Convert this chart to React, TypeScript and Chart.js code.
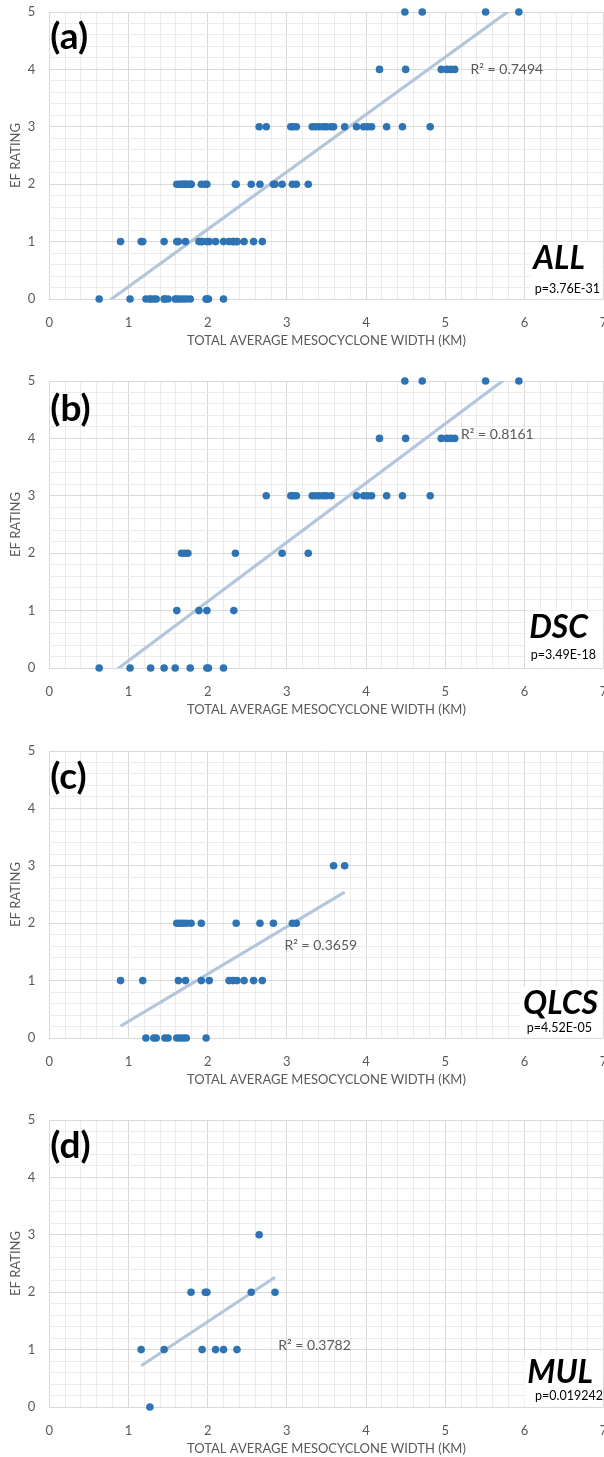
import React, { useEffect, useRef } from "react";
import { Chart, registerables } from "chart.js";

Chart.register(...registerables);

// Mesocyclone width (km) of each tornado, grouped by EF rating.
// ALL storms
const allEF0 = [0.63, 1.02, 1.22, 1.27, 1.28, 1.32, 1.35, 1.45, 1.46, 1.5, 1.59, 1.61, 1.65, 1.69, 1.73, 1.78, 1.98, 1.99, 2.01, 2.2];
const allEF1 = [0.9, 1.16, 1.18, 1.45, 1.61, 1.63, 1.72, 1.89, 1.92, 1.93, 1.99, 2.02, 2.1, 2.2, 2.27, 2.32, 2.33, 2.37, 2.37, 2.46, 2.58, 2.69];
const allEF2 = [1.61, 1.65, 1.67, 1.69, 1.71, 1.73, 1.75, 1.79, 1.79, 1.92, 1.97, 1.99, 2.35, 2.36, 2.55, 2.66, 2.83, 2.85, 2.94, 3.07, 3.12, 3.27];
const allEF3 = [2.65, 2.74, 3.05, 3.08, 3.12, 3.32, 3.36, 3.41, 3.46, 3.5, 3.56, 3.59, 3.73, 3.88, 3.97, 4.02, 4.07, 4.26, 4.46, 4.81];
const allEF4 = [4.17, 4.5, 4.95, 5.02, 5.07, 5.12];
const allEF5 = [4.49, 4.71, 5.51, 5.93];

// Discrete supercells
const dscEF0 = [0.63, 1.02, 1.28, 1.45, 1.59, 1.78, 1.99, 2.01, 2.2];
const dscEF1 = [1.61, 1.89, 1.99, 2.33];
const dscEF2 = [1.67, 1.71, 1.75, 2.35, 2.94, 3.27];
const dscEF3 = [2.74, 3.05, 3.08, 3.12, 3.32, 3.36, 3.41, 3.46, 3.5, 3.56, 3.88, 3.97, 4.02, 4.07, 4.26, 4.46, 4.81];
const dscEF4 = [4.17, 4.5, 4.95, 5.02, 5.07, 5.12];
const dscEF5 = [4.49, 4.71, 5.51, 5.93];

// Quasi-linear convective systems
const qlcsEF0 = [1.22, 1.32, 1.35, 1.46, 1.5, 1.61, 1.65, 1.69, 1.73, 1.98];
const qlcsEF1 = [0.9, 1.18, 1.63, 1.72, 1.92, 2.02, 2.27, 2.32, 2.37, 2.46, 2.58, 2.69];
const qlcsEF2 = [1.61, 1.65, 1.69, 1.73, 1.79, 1.92, 2.36, 2.66, 2.83, 3.07, 3.12];
const qlcsEF3 = [3.59, 3.73];

// Multicell / mixed mode
const mulEF0 = [1.27];
const mulEF1 = [1.16, 1.45, 1.93, 2.1, 2.2, 2.37];
const mulEF2 = [1.79, 1.97, 1.99, 2.55, 2.85];
const mulEF3 = [2.65];

// Linear trendlines (slope, intercept) and their R² / p values
const trendSlopes = [1.0, 1.032, 0.826, 0.913];
const trendIntercepts = [-0.786, -0.906, -0.538, -0.341];
const rSquared = ["0.7494", "0.8161", "0.3659", "0.3782"];
const pValues = ["3.76E-31", "3.49E-18", "4.52E-05", "0.019242"];
const panelTags = ["(a)", "(b)", "(c)", "(d)"];
const groupNames = ["ALL", "DSC", "QLCS", "MUL"];

const FONT = "Lato, 'Open Sans', sans-serif";
const TEXT_GREY = "#595959";
const GRID_MAJOR = "#d9d9d9";
const GRID_MINOR = "#ebebeb";
const MARKER = "#2e74b5";
const TREND = "#b4c6dc";

const CANVAS_W = 640;
const CANVAS_H = 369;
const PLOT_RIGHT = 603.6;

type Pt = { x: number; y: number };

function toPoints(byRating: number[][]): Pt[] {
  const pts: Pt[] = [];
  byRating.forEach((widths, ef) => widths.forEach((w) => pts.push({ x: w, y: ef })));
  return pts;
}

const panelData: number[][][] = [
  [allEF0, allEF1, allEF2, allEF3, allEF4, allEF5],
  [dscEF0, dscEF1, dscEF2, dscEF3, dscEF4, dscEF5],
  [qlcsEF0, qlcsEF1, qlcsEF2, qlcsEF3],
  [mulEF0, mulEF1, mulEF2, mulEF3],
];

// Placement of the in-plot labels (pixels from the plot area's top, value coords for R²)
const labelLayout = [
  { tagDy: 25.5, groupRight: 585, groupDy: 247, pRight: 600, pDy: 277, r2X: 5.32, r2Y: 4.0 },
  { tagDy: 28, groupRight: 588, groupDy: 246.5, pRight: 596, pDy: 274, r2X: 5.2, r2Y: 4.07 },
  { tagDy: 26.5, groupRight: 598, groupDy: 253, pRight: 592, pDy: 277, r2X: 2.97, r2Y: 1.61 },
  { tagDy: 26.5, groupRight: 593, groupDy: 252.5, pRight: 603, pDy: 275.7, r2X: 2.89, r2Y: 1.08 },
];

const isInt = (v: number) => Math.abs(v - Math.round(v)) < 1e-6;

const annotatePlugin = {
  id: "annotate",
  afterDatasetsDraw(chart: any, _args: any, opts: any) {
    const i: number = opts.index;
    const lay = labelLayout[i];
    const { ctx, chartArea, scales } = chart;
    ctx.save();
    ctx.textBaseline = "middle";

    // white box behind the group name and p-value
    ctx.font = `italic bold 32px ${FONT}`;
    const gW = ctx.measureText(groupNames[i]).width;
    ctx.font = `12.5px ${FONT}`;
    const pW = ctx.measureText("p=" + pValues[i]).width;
    const boxLeft = Math.min(lay.groupRight - gW, lay.pRight - pW) - 3;
    const boxTop = chartArea.top + lay.groupDy - 17;
    ctx.fillStyle = "#ffffff";
    ctx.fillRect(boxLeft, boxTop, chartArea.right - 1 - boxLeft, chartArea.bottom - 1 - boxTop);

    ctx.fillStyle = "#000000";
    ctx.textAlign = "left";
    ctx.font = `bold 37px ${FONT}`;
    ctx.fillText(panelTags[i], chartArea.left + 1, chartArea.top + lay.tagDy);

    ctx.textAlign = "right";
    ctx.font = `italic bold 32px ${FONT}`;
    ctx.fillText(groupNames[i], lay.groupRight, chartArea.top + lay.groupDy);
    ctx.font = `12.5px ${FONT}`;
    ctx.fillText("p=" + pValues[i], lay.pRight, chartArea.top + lay.pDy);

    ctx.fillStyle = TEXT_GREY;
    ctx.textAlign = "left";
    ctx.font = `14px ${FONT}`;
    ctx.fillText(
      "R\u00b2 = " + rSquared[i],
      scales.x.getPixelForValue(lay.r2X),
      scales.y.getPixelForValue(lay.r2Y)
    );
    ctx.restore();
  },
};

function ScatterPanel({ index, top }: { index: number; top: number }) {
  const ref = useRef<HTMLCanvasElement>(null);

  useEffect(() => {
    const points = toPoints(panelData[index]);
    const xs = points.map((p) => p.x);
    const xMin = Math.min(...xs);
    const xMax = Math.max(...xs);
    const m = trendSlopes[index];
    const b = trendIntercepts[index];
    const trend = [
      { x: xMin, y: m * xMin + b },
      { x: xMax, y: m * xMax + b },
    ];

    const axisFont = { family: FONT, size: 13 };
    const gridColor = (c: any) => (isInt(c.tick.value) ? GRID_MAJOR : GRID_MINOR);

    const chart = new Chart(ref.current as HTMLCanvasElement, {
      type: "scatter",
      data: {
        datasets: [
          {
            data: points,
            backgroundColor: MARKER,
            borderColor: MARKER,
            pointRadius: 3.8,
            pointBorderWidth: 0,
            clip: false,
            order: 0,
          } as any,
          {
            data: trend,
            showLine: true,
            borderColor: TREND,
            borderWidth: 3.2,
            pointRadius: 0,
            clip: 0,
            order: 1,
          } as any,
        ],
      },
      options: {
        animation: false,
        responsive: false,
        devicePixelRatio: 1,
        events: [],
        layout: { padding: { top: 12, left: 0, right: CANVAS_W - PLOT_RIGHT, bottom: 18 } },
        plugins: {
          legend: { display: false },
          tooltip: { enabled: false },
          annotate: { index },
        } as any,
        scales: {
          x: {
            type: "linear",
            min: 0,
            max: 7,
            ticks: {
              stepSize: 0.2,
              autoSkip: false,
              maxRotation: 0,
              padding: 16,
              color: TEXT_GREY,
              font: axisFont,
              callback: (v: any) => (isInt(Number(v)) ? String(Math.round(Number(v))) : ""),
            },
            grid: { color: gridColor, lineWidth: 1, drawTicks: false },
            border: { display: false },
            title: {
              display: true,
              text: "TOTAL AVERAGE MESOCYCLONE WIDTH (KM)",
              color: TEXT_GREY,
              font: axisFont,
              padding: { top: 0, bottom: 2 },
            },
            afterFit: (s: any) => {
              s.height = 52;
              s.paddingLeft = 0;
              s.paddingRight = 0;
            },
          },
          y: {
            type: "linear",
            min: 0,
            max: 5,
            ticks: {
              stepSize: 0.2,
              autoSkip: false,
              padding: 14,
              color: TEXT_GREY,
              font: axisFont,
              callback: (v: any) => (isInt(Number(v)) ? String(Math.round(Number(v))) : ""),
            },
            grid: { color: gridColor, lineWidth: 1, drawTicks: false },
            border: { display: false },
            title: {
              display: true,
              text: "EF RATING",
              color: TEXT_GREY,
              font: axisFont,
              padding: { top: 8, bottom: 0 },
            },
            afterFit: (s: any) => {
              s.width = 49.3;
              s.paddingTop = 0;
              s.paddingBottom = 0;
            },
          },
        },
      } as any,
      plugins: [annotatePlugin],
    });
    return () => chart.destroy();
  }, [index]);

  return (
    <canvas
      ref={ref}
      width={CANVAS_W}
      height={CANVAS_H}
      style={{ position: "absolute", left: 0, top, display: "block" }}
    />
  );
}

const panelTops = [0, 369, 739, 1108];

export default function App() {
  return (
    <div
      style={{
        position: "absolute",
        left: 0,
        top: 0,
        width: 604,
        height: 1457,
        overflow: "hidden",
        background: "#ffffff",
      }}
    >
      {panelTops.map((t, i) => (
        <ScatterPanel key={i} index={i} top={t} />
      ))}
    </div>
  );
}
